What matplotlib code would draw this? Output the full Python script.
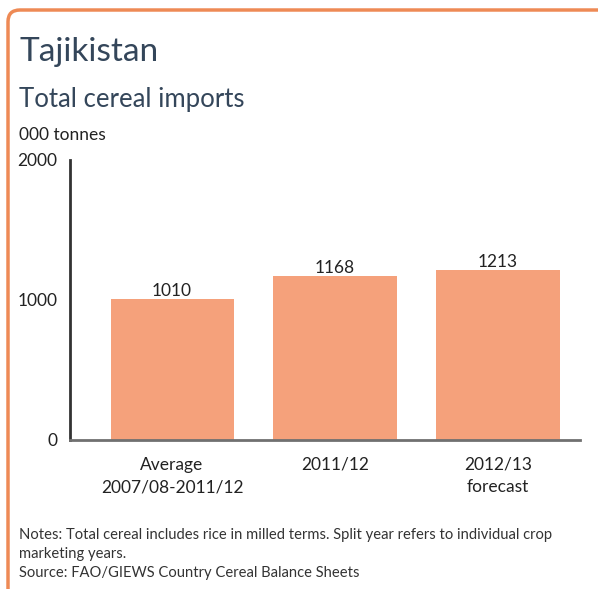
import matplotlib.pyplot as plt
from matplotlib.patches import FancyBboxPatch

plt.rcParams['font.family'] = ['Lato', 'DejaVu Sans']

categories = ['Average\n2007/08-2011/12', '2011/12', '2012/13\nforecast']
values = [1010, 1168, 1213]
yticks = [0, 1000, 2000]

W, H = 598, 589
fig = plt.figure(figsize=(W / 100, H / 100), dpi=100)

# orange frame, only top and left edges visible
frame = FancyBboxPatch((8 / W, -0.1), 1.2, 1 - 10 / H + 0.1,
                       boxstyle='round,pad=0,rounding_size=0.02',
                       transform=fig.transFigure, facecolor='none',
                       edgecolor='#EE8A55', linewidth=2.5, clip_on=False)
fig.patches.append(frame)

title_color = '#34465a'
fig.text(19 / W, 1 - 52 / H, 'Tajikistan', fontsize=24, color=title_color, va='center')
fig.text(19 / W, 1 - 100 / H, 'Total cereal imports', fontsize=18.5, color=title_color, va='center')
fig.text(19 / W, 1 - 135 / H, '000 tonnes', fontsize=12.5, color='#222222', va='center')

ax = fig.add_axes([70 / W, 1 - 440 / H, 510 / W, 280 / H])
x = range(len(values))
bars = ax.bar(x, values, width=0.755, color='#F5A17B')
for b, v in zip(bars, values):
    ax.text(b.get_x() + b.get_width() / 2, v, str(v), ha='center', va='bottom',
            fontsize=12.5, color='#222222')

ax.set_xlim(-0.626, 2.503)
ax.set_ylim(0, 2000)
ax.set_yticks(yticks)
ax.set_yticklabels([str(t) for t in yticks])
ax.set_xticks(list(x))
ax.set_xticklabels(categories, linespacing=1.5)
ax.tick_params(axis='both', length=0, labelsize=12.5, colors='#222222')
ax.tick_params(axis='y', pad=9)
ax.tick_params(axis='x', pad=12)
for s in ['top', 'right']:
    ax.spines[s].set_visible(False)
ax.spines['left'].set_color('#333333')
ax.spines['left'].set_linewidth(2)
ax.spines['bottom'].set_color('#707070')
ax.spines['bottom'].set_linewidth(2)

notes = ('Notes: Total cereal includes rice in milled terms. Split year refers to individual crop\n'
         'marketing years.\n'
         'Source: FAO/GIEWS Country Cereal Balance Sheets')
fig.text(19 / W, 1 - 528 / H, notes, fontsize=10.6, color='#333333', va='top', linespacing=1.45)

fig.savefig('out.png', dpi=100, facecolor='white')
